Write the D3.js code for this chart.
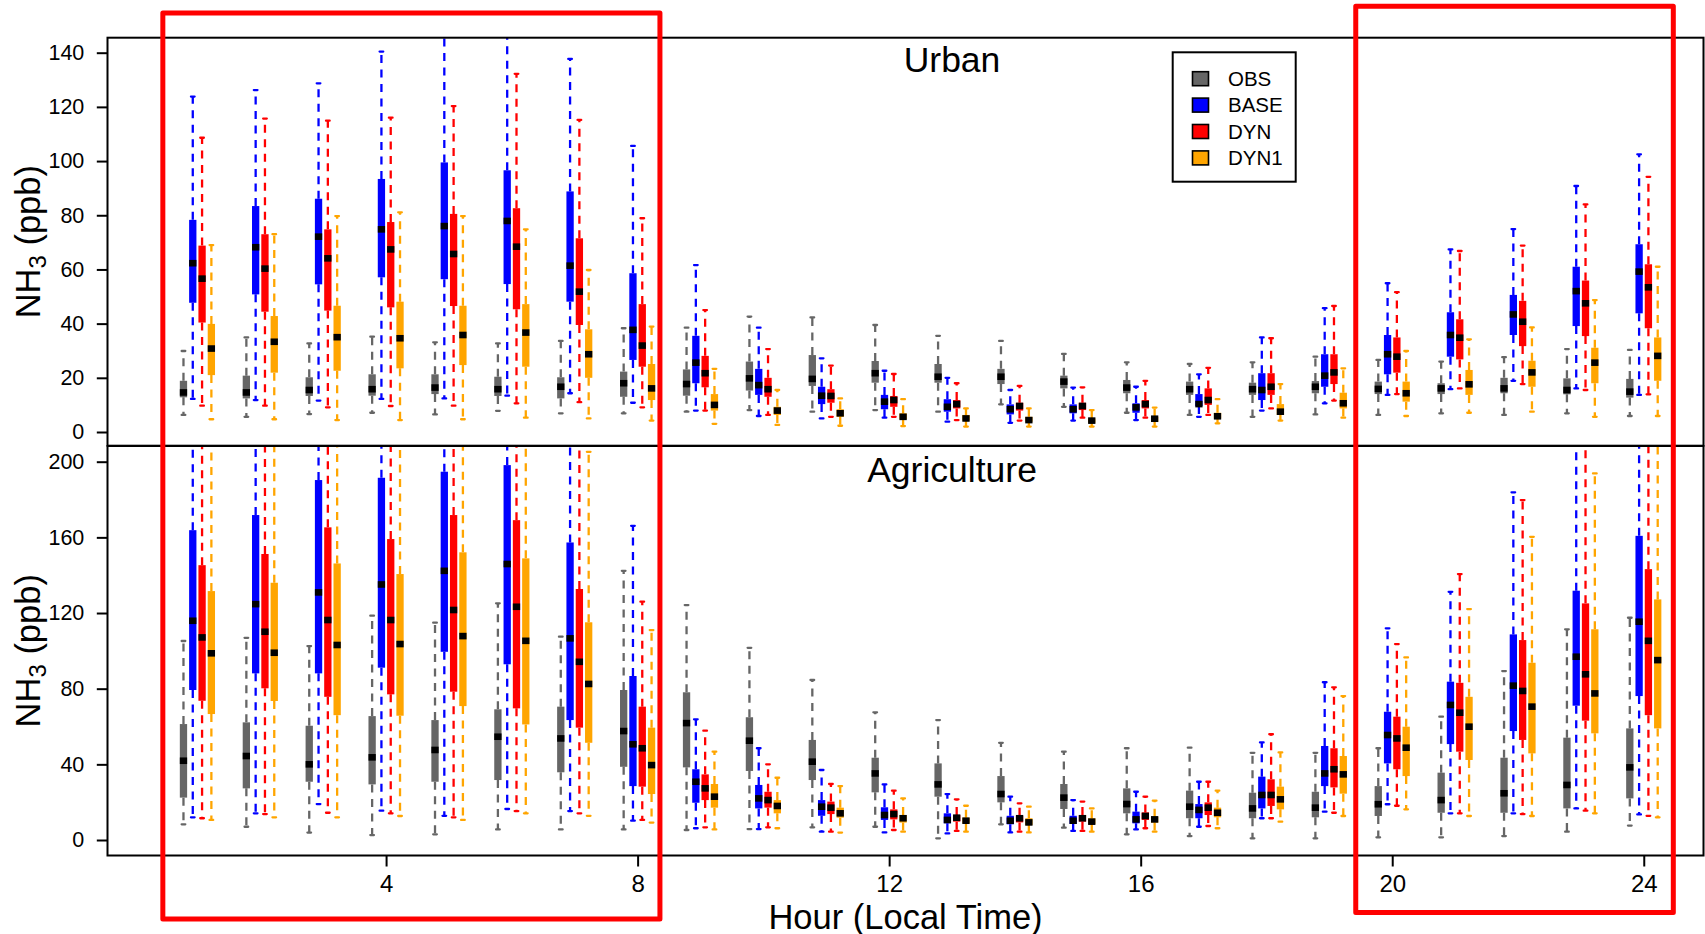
<!DOCTYPE html>
<html><head><meta charset="utf-8">
<script src="https://cdn.jsdelivr.net/npm/d3@7"></script>
<style>
body{margin:0;background:#fff}
text{font-family:"Liberation Sans",Arial,Helvetica,sans-serif;fill:#000}
</style>
</head><body>
<svg id="c" width="1705" height="934"></svg>
<script>
// ---------------- DATA ----------------
const hours = d3.range(1, 25);
const series = ["OBS", "BASE", "DYN", "DYN1"];
const seriesColors = ["#666666", "#0000FF", "#FF0000", "#FFA500"];
const xTicks = [4, 8, 12, 16, 20, 24];
const urbanTicks = [0, 20, 40, 60, 80, 100, 120, 140];
const agriTicks = [0, 40, 80, 120, 160, 200];
const panelTitles = ["Urban", "Agriculture"];

// each entry per hour 1..24: [lower whisker, Q1, median, Q3, upper whisker] (ppb)
const urbanOBS = [
 [6.3,12.8,14.6,18.9,29.9],[5.6,12.4,14.6,20.8,34.9],[6.6,13.3,15.5,20.2,32.7],[7.1,13.4,15.8,21.3,35.2],
 [6.5,14.0,16.4,21.3,33.1],[7.8,13.3,15.8,20.4,32.7],[6.9,12.4,16.7,20.2,33.6],[6.9,13.0,18.0,22.3,38.3],
 [7.5,13.4,17.7,23.1,38.5],[8.1,15.3,19.8,26.0,42.6],[7.5,17.0,19.6,28.4,42.3],[8.1,18.2,21.7,26.2,39.5],
 [7.5,18.2,20.4,25.1,35.5],[10.2,17.7,20.4,23.3,33.6],[9.3,16.1,18.6,20.8,28.8],[7.1,14.3,16.4,19.2,25.7],
 [6.3,13.7,15.8,18.6,25.1],[5.6,13.7,15.8,18.2,25.7],[6.5,14.3,16.7,18.8,27.8],[6.3,14.0,15.9,18.6,26.6],
 [6.9,14.0,16.1,18.0,26.0],[6.3,14.3,16.1,20.0,27.6],[6.9,13.9,15.5,19.8,30.6],[5.9,12.7,14.9,19.6,30.3]
];
const urbanBASE = [
 [12.2,47.7,62.3,78.3,123.8],[11.8,50.8,68.2,83.4,126.2],[11.6,54.5,72.1,86.1,128.7],[12.2,57.1,74.8,93.4,140.4],
 [12.4,56.4,76.0,99.5,152],[13.4,54.6,77.9,96.6,150],[14.3,48.1,61.4,88.8,137.7],[10.8,26.6,37.7,58.6,105.6],
 [7.9,18.0,25.6,35.5,61.6],[5.9,13.7,17.3,23.3,38.5],[5.0,10.3,13.4,16.7,27.2],[5.3,8.4,11.2,13.7,22.6],
 [3.8,7.5,9.3,12.1,20.0],[3.4,6.5,8.4,10.2,15.5],[4.2,6.9,8.4,10.2,16.4],[4.4,7.1,9.1,10.6,16.7],
 [5.6,9.6,10.3,14.0,21.3],[7.9,11.8,15.5,21.7,34.9],[10.6,16.7,20.8,28.7,45.7],[13.7,21.3,28.7,35.8,54.9],
 [15.8,27.8,35.8,44.2,67.4],[18.9,35.8,43.4,50.6,74.9],[16.1,39.1,52.0,61.0,90.8],[13.7,43.8,59.2,69.3,102.5]
];
const urbanDYN = [
 [9.7,40.4,56.6,68.8,108.6],[9.7,44.4,60.3,73.0,115.7],[9.1,44.8,64.1,74.8,114.9],[9.6,46.0,67.4,77.5,116.0],
 [9.7,46.5,65.7,80.5,120.3],[10.6,45.3,68.4,82.6,132.2],[11.0,39.5,51.8,71.5,115.2],[9.1,24.1,31.9,47.2,78.9],
 [7.9,16.5,21.7,28.1,45.0],[6.3,13.0,15.8,20.0,30.6],[5.6,10.8,13.3,15.8,24.5],[5.6,9.3,11.8,13.3,21.4],
 [4.4,8.7,10.3,11.8,18.0],[4.2,7.9,9.6,10.8,17.0],[5.3,8.1,9.6,10.8,16.5],[5.3,8.7,10.3,11.8,18.9],
 [6.3,10.0,11.8,16.1,23.7],[8.7,13.7,16.7,21.7,34.6],[11.6,17.7,22.0,28.7,46.5],[14.0,21.9,27.8,34.9,51.6],
 [16.1,26.8,34.8,41.6,66.8],[17.7,31.7,40.7,48.4,68.8],[15.5,35.4,47.5,55.9,84.0],[13.9,38.3,53.4,61.9,94.2]
];
const urbanDYN1 = [
 [4.7,21.0,30.8,39.9,69.0],[4.7,21.9,33.3,42.8,73.0],[4.4,22.6,35.0,46.6,79.7],[4.4,23.5,34.6,48.1,81.1],
 [4.7,24.7,35.8,46.6,79.7],[5.3,24.1,36.7,47.2,74.8],[5.0,20.0,28.7,37.9,59.8],[4.2,11.8,16.1,25.1,38.9],
 [3.0,7.9,10.0,14.0,23.3],[2.6,6.3,7.9,9.3,15.5],[2.3,5.6,6.9,8.4,12.4],[2.2,4.7,5.6,6.9,12.1],
 [2.0,4.2,5.0,6.3,8.7],[2.0,3.8,4.4,5.6,8.7],[2.0,3.4,4.2,5.0,8.1],[2.0,3.8,4.9,5.6,9.0],
 [3.2,5.0,5.8,7.1,12.1],[4.2,6.3,7.5,10.3,17.7],[5.3,8.7,10.6,14.5,23.5],[5.9,11.2,14.3,18.6,29.9],
 [7.1,13.7,17.6,22.9,34.2],[7.5,16.7,22.0,26.3,38.6],[5.6,18.0,25.6,31.1,48.7],[5.9,18.9,28.1,34.9,61.0]
];
const agriOBS = [
 [8.3,22.4,41.9,61.3,105.2],[7.0,27.3,44.4,62.2,106.9],[3.9,30.8,40.0,60.4,102.5],[2.6,29.4,43.7,65.5,118.6],
 [3.0,30.8,47.6,63.4,114.9],[5.6,31.7,54.6,69.1,125.1],[5.6,35.8,53.7,70.5,107.5],[5.6,38.7,57.6,79.3,142.3],
 [5.3,38.4,61.8,78.1,124.2],[5.8,36.5,52.5,64.9,101.6],[6.7,31.7,41.4,52.9,84.6],[7.0,25.2,35.2,43.5,67.5],
 [0.9,22.9,29.4,40.5,63.4],[8.3,19.9,24.3,33.8,51.4],[6.5,16.4,22.4,29.6,46.7],[3.0,14.1,19.0,27.3,48.5],
 [2.1,11.5,17.6,26.1,48.8],[0.9,11.5,16.7,25.0,46.1],[0.9,12.0,17.1,25.5,46.1],[1.4,12.7,18.9,28.5,48.5],
 [1.4,14.4,21.1,35.6,65.2],[2.1,14.4,24.7,43.5,89.3],[4.4,16.7,29.1,54.1,111.4],[7.6,22.0,38.4,59.0,117.5]
];
const agriBASE = [
 [12.0,79.3,115.9,163.8,245],[14.1,88.1,124.7,171.8,250],[19.0,88.1,130.9,190.3,260],[15.5,91.1,135.1,191.5,265],
 [12.8,99.5,142.3,194.7,270],[16.4,92.9,145.9,198.2,275],[15.3,63.4,106.6,157.3,240],[10.2,28.5,50.6,86.7,166.1],
 [6.2,19.7,30.8,37.4,63.8],[5.8,16.7,22.0,29.1,48.5],[4.4,12.8,17.6,21.1,37.0],[4.0,10.6,13.2,17.3,29.4],
 [3.5,8.8,10.6,14.1,24.3],[4.0,8.3,10.2,12.8,22.9],[4.8,8.5,10.2,12.8,21.1],[5.6,8.8,10.9,15.0,25.5],
 [7.0,11.5,15.9,19.0,30.8],[11.5,16.7,23.8,33.5,51.6],[15.0,28.5,35.2,49.7,83.4],[18.9,40.5,55.5,67.8,111.9],
 [14.1,50.7,71.4,83.7,131.2],[14.1,57.6,81.6,108.7,183.8],[16.7,71.0,96.9,131.8,225],[13.5,76.1,115.4,160.8,240]
];
const agriDYN = [
 [11.5,73.6,107.1,145.3,230],[13.7,80.2,110.1,151.2,235],[14.4,75.7,116.3,165.3,245],[14.1,77.0,116.3,159.1,245],
 [12.0,78.4,121.6,171.8,250],[15.3,69.6,123.3,169.1,250],[14.1,59.4,94.2,132.7,215],[10.6,28.2,48.5,70.5,126.0],
 [6.7,21.1,27.3,34.7,57.8],[6.7,17.1,21.1,25.5,40.0],[4.4,13.7,17.1,20.3,29.6],[5.3,10.9,13.7,16.2,26.1],
 [4.8,9.7,11.8,13.2,21.5],[4.4,9.3,11.5,12.8,19.4],[4.8,9.7,11.5,13.2,20.3],[6.2,10.6,12.7,14.6,22.9],
 [7.4,13.2,17.1,19.9,30.8],[11.5,18.0,23.8,32.1,55.9],[14.4,27.8,37.4,48.5,80.7],[18.1,37.4,53.7,65.2,103.6],
 [14.1,46.7,67.3,83.1,140.6],[13.7,52.9,78.8,105.7,179.7],[15.5,63.1,87.6,125.1,215],[12.8,66.0,105.3,143.2,230]
];
const agriDYN1 = [
 [10.6,66.6,98.7,131.6,225],[12.0,73.5,99.0,136.0,225],[12.0,66.0,103.1,146.2,235],[12.7,65.7,103.6,140.6,230],
 [10.6,70.8,107.8,152.1,240],[14.1,61.1,105.3,148.9,235],[12.8,51.4,82.5,115.1,205.2],[9.2,24.3,39.6,59.4,111.0],
 [5.6,17.1,22.9,29.6,46.7],[6.2,14.1,18.0,21.1,32.9],[3.9,11.8,14.1,17.1,28.5],[4.4,9.2,11.5,13.2,22.0],
 [4.4,8.8,10.2,11.8,18.1],[4.0,7.9,9.3,11.5,17.6],[4.4,8.5,9.7,11.5,16.7],[4.4,9.2,10.9,12.3,20.8],
 [6.2,12.0,14.4,17.1,26.1],[9.7,16.2,21.5,28.2,46.3],[12.7,24.5,34.7,44.4,76.1],[16.2,33.8,48.8,59.9,96.5],
 [12.7,42.3,59.9,75.7,122.1],[12.7,45.8,70.5,93.7,160.3],[14.1,56.4,77.5,111.4,193.8],[12.0,59.0,95.1,127.2,225]
];

// ---------------- LAYOUT ----------------
const svg = d3.select("#c");
const L = 107.5, R = 1703.5;
const x = d3.scaleLinear().domain([-0.43, 24.95]).range([L, R]);
const band = d3.scaleBand().domain(series).range([-17.6, 17.6]).paddingInner(0.215);
const color = d3.scaleOrdinal().domain(series).range(seriesColors);

const panels = [
  {title: panelTitles[0], top: 37.7, bottom: 445.7,
   y: d3.scaleLinear().domain([0, 140]).range([432, 52.7]), ticks: urbanTicks,
   data: [urbanOBS, urbanBASE, urbanDYN, urbanDYN1], titleY: 71.7},
  {title: panelTitles[1], top: 446, bottom: 855.5,
   y: d3.scaleLinear().domain([0, 200]).range([840, 461.7]), ticks: agriTicks,
   data: [agriOBS, agriBASE, agriDYN, agriDYN1], titleY: 481.7}
];

const defs = svg.append("defs");
const bw = band.bandwidth();

panels.forEach((p, pi) => {
  const y = p.y;
  defs.append("clipPath").attr("id", "clip" + pi)
    .append("rect").attr("x", L).attr("y", p.top).attr("width", R - L).attr("height", p.bottom - p.top);

  const recs = [];
  series.forEach((s, si) => {
    hours.forEach((h, hi) => {
      const v = p.data[si][hi];
      recs.push({s, h, lo: v[0], q1: v[1], med: v[2], q3: v[3], hi: v[4]});
    });
  });

  const g = svg.append("g").attr("clip-path", `url(#clip${pi})`);
  const box = g.selectAll("g.bx").data(recs).join("g").attr("class", "bx")
    .attr("transform", d => `translate(${x(d.h) + band(d.s) + bw / 2},0)`);

  // whiskers
  box.append("line").attr("x1", 0).attr("x2", 0)
    .attr("y1", d => y(d.q3)).attr("y2", d => y(d.hi))
    .attr("stroke", d => color(d.s)).attr("stroke-width", 2.3).attr("stroke-dasharray", "8 6.5");
  box.append("line").attr("x1", 0).attr("x2", 0)
    .attr("y1", d => y(d.q1)).attr("y2", d => y(d.lo))
    .attr("stroke", d => color(d.s)).attr("stroke-width", 2.3).attr("stroke-dasharray", "8 6.5");
  // staples
  ["hi", "lo"].forEach(k => {
    box.append("line").attr("x1", -bw * 0.25).attr("x2", bw * 0.25)
      .attr("y1", d => y(d[k])).attr("y2", d => y(d[k]))
      .attr("stroke", d => color(d.s)).attr("stroke-width", 2.3).attr("stroke-linecap", "round");
  });
  // box
  box.append("rect").attr("x", -bw / 2).attr("width", bw)
    .attr("y", d => y(d.q3)).attr("height", d => y(d.q1) - y(d.q3))
    .attr("fill", d => color(d.s));
  // median
  box.append("rect").attr("x", -bw / 2).attr("width", bw)
    .attr("y", d => y(d.med) - 3.3).attr("height", 6.6).attr("fill", "#000");

  // y axis
  const ya = svg.append("g").attr("transform", `translate(${L},0)`)
    .call(d3.axisLeft(y).tickValues(p.ticks).tickSize(10.7).tickPadding(12.5));
  ya.select(".domain").remove();
  ya.selectAll(".tick line").attr("stroke", "#000").attr("stroke-width", 2);
  ya.selectAll(".tick text").attr("font-size", 21.5)
    .attr("font-family", "'Liberation Sans',Arial,sans-serif").attr("fill", "#000");

  // frame
  svg.append("rect").attr("x", L).attr("y", p.top).attr("width", R - L).attr("height", p.bottom - p.top)
    .attr("fill", "none").attr("stroke", "#000").attr("stroke-width", 2);

  // title
  svg.append("text").attr("x", x(13)).attr("y", p.titleY).attr("text-anchor", "middle")
    .attr("font-size", 35.5).text(p.title);

  // y label
  const cy = (p.top + p.bottom) / 2;
  const yl = svg.append("text").attr("transform", `translate(40,${cy}) rotate(-90)`)
    .attr("text-anchor", "middle").attr("font-size", 34.5);
  yl.append("tspan").text("NH");
  yl.append("tspan").attr("font-size", 24).attr("dy", 6).text("3");
  yl.append("tspan").attr("dy", -6).text(" (ppb)");
});

// x axis
const xa = svg.append("g").attr("transform", `translate(0,855.5)`)
  .call(d3.axisBottom(x).tickValues(xTicks).tickSize(11).tickPadding(8.5));
xa.select(".domain").remove();
xa.selectAll(".tick line").attr("stroke", "#000").attr("stroke-width", 2);
xa.selectAll(".tick text").attr("font-size", 24)
  .attr("font-family", "'Liberation Sans',Arial,sans-serif").attr("fill", "#000");

svg.append("text").attr("x", (L + R) / 2).attr("y", 928.5).attr("text-anchor", "middle")
  .attr("font-size", 34.5).text("Hour (Local Time)");

// legend
const lg = svg.append("g");
lg.append("rect").attr("x", 1172.7).attr("y", 52.3).attr("width", 123).attr("height", 129.4)
  .attr("fill", "#fff").attr("stroke", "#000").attr("stroke-width", 2);
const ly = d3.scalePoint().domain(series).range([78.7, 157.9]);
series.forEach(s => {
  lg.append("rect").attr("x", 1192.5).attr("y", ly(s) - 7).attr("width", 16).attr("height", 14)
    .attr("fill", color(s)).attr("stroke", "#000").attr("stroke-width", 1.6);
  lg.append("text").attr("x", 1228).attr("y", ly(s)).attr("dy", "0.36em")
    .attr("font-size", 20.5).text(s);
});

// red highlight rectangles (hours 1-8 and 20-24)
const hl = [[0.45, 8.355], [19.42, 24.47]];
const hlY = [[13, 919], [6.2, 912.5]];
hl.forEach((r, i) => {
  svg.append("rect").attr("x", x(r[0])).attr("width", x(r[1]) - x(r[0]))
    .attr("y", hlY[i][0]).attr("height", hlY[i][1] - hlY[i][0])
    .attr("fill", "none").attr("stroke", "#FF0000").attr("stroke-width", 5)
    .attr("stroke-linejoin", "round");
});
</script>
</body></html>
